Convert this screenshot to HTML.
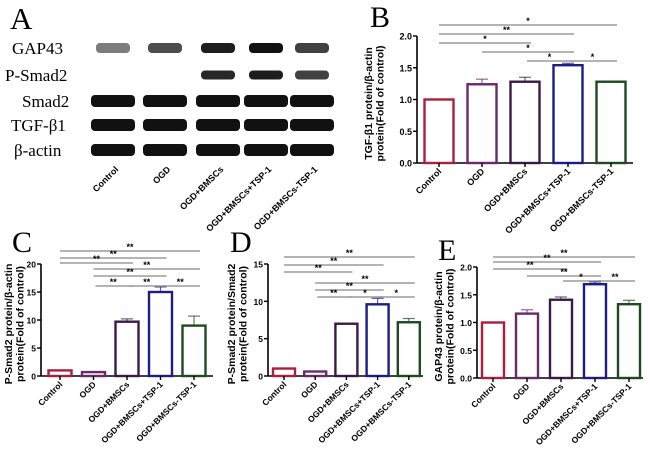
<!DOCTYPE html>
<html><head><meta charset="utf-8"><style>
body{margin:0;background:#fff}
svg{display:block;font-family:"Liberation Sans",Arial,sans-serif}
.serif{font-family:"Liberation Serif","DejaVu Serif",serif}
</style></head><body>
<svg id="fig" width="650" height="454" viewBox="0 0 650 454">
<g id="blot">
<text class="serif" x="10" y="29" font-size="31">A</text>
</g>
</svg>
<script>
const groups = ["Control","OGD","OGD+BMSCs","OGD+BMSCs+TSP-1","OGD+BMSCs-TSP-1"];
const colors = ["#a8203c","#6a2a6a","#3a1a48","#1c1c86","#1e4a1e"];
const valuesB = [1.0,1.24,1.28,1.54,1.28];
const errB = [0,0.08,0.07,0.03,0];
const ticksB = ["0.0","0.5","1.0","1.5","2.0"];
const sigB = [[0,4,"*"],[0,3,"**"],[0,2,"*"],[1,3,"*"],[2,3,"*"],[3,4,"*"]];
const valuesC = [1.0,0.7,9.7,15,9];
const errC = [0,0,0.5,0.9,1.7];
const ticksC = ["0","5","10","15","20"];
const sigC = [[0,4,"**"],[0,3,"**"],[0,2,"**"],[1,4,"**"],[1,3,"**"],[1,2,"**"],[2,3,"**"],[3,4,"**"]];
const valuesD = [1.0,0.6,7.0,9.6,7.2];
const errD = [0,0,0,0.8,0.5];
const ticksD = ["0","5","10","15"];
const sigD = [[0,4,"**"],[0,3,"**"],[0,2,"**"],[1,4,"**"],[1,3,"**"],[1,2,"**"],[2,3,"*"],[3,4,"*"]];
const valuesE = [1.0,1.16,1.41,1.69,1.33];
const errE = [0,0.07,0.05,0.04,0.07];
const ticksE = ["0.0","0.5","1.0","1.5","2.0"];
const sigE = [[0,4,"**"],[0,3,"**"],[0,2,"**"],[1,3,"**"],[2,3,"*"],[3,4,"**"]];
const blotRows = ["GAP43","P-Smad2","Smad2","TGF-β1","β-actin"];
const blotIntensity = [[0.55,0.75,0.95,1,0.8],[0,0,0.9,0.95,0.8],[1,1,1,1,1],[1,1,1,1,1],[1,1,1,1,1]];

const NS="http://www.w3.org/2000/svg";
const svg=document.getElementById('fig');
function mk(tag,attrs,parent,text){const e=document.createElementNS(NS,tag);for(const k in attrs)e.setAttribute(k,attrs[k]);if(text!==undefined)e.textContent=text;(parent||svg).appendChild(e);return e;}

function panel(cfg){
  const g=mk('g',{});
  
  
  const L=mk('text',{x:cfg.lx,y:cfg.ly,'font-size':30,class:'serif'},g,cfg.letter);
  
  
  const ymax=cfg.ymax;
  const y=v=>cfg.y0-(v/ymax)*(cfg.y0-cfg.yTop);
  const x=i=>cfg.xc0+i*cfg.step;
  const ya=mk('line',{x1:cfg.ax,x2:cfg.ax,y1:cfg.yTop,y2:cfg.y0,stroke:'#000','stroke-width':1.6},g);
  
  
  const xa=mk('line',{x1:cfg.ax,x2:cfg.axEnd,y1:cfg.y0,y2:cfg.y0,stroke:'#000','stroke-width':1.6},g);
  
  
  cfg.ticks.forEach((t,i)=>{
    const v=i*ymax/(cfg.ticks.length-1);
    mk('line',{x1:cfg.ax-4,x2:cfg.ax,y1:y(v),y2:y(v),stroke:'#000','stroke-width':1.4},g);
    const tt=mk('text',{x:cfg.ax-5,y:y(v)+3.5,'font-size':cfg.fs,'font-weight':'bold','text-anchor':'end'},g,t);
    
    
  });
  const cy=(cfg.y0+cfg.yTop)/2+4;
  cfg.title.forEach((ln,k)=>{
    const tx=cfg.tx+k*11.5;
    const t=mk('text',{x:tx,y:cy,'font-size':10.5,'font-weight':'bold','text-anchor':'middle',transform:`rotate(-90 ${tx} ${cy})`},g,ln);
    
    
  });
  cfg.values.forEach((v,i)=>{
    const b=mk('rect',{x:x(i)-cfg.bw/2,y:y(v),width:cfg.bw,height:cfg.y0-y(v),fill:'#fff',stroke:colors[i],'stroke-width':2.4},g);
    
    
    if(cfg.err[i]>0){
      const e=y(v+cfg.err[i]);
      mk('line',{x1:x(i),x2:x(i),y1:y(v),y2:e,stroke:colors[i],'stroke-width':1.2,opacity:0.7},g);
      mk('line',{x1:x(i)-6,x2:x(i)+6,y1:e,y2:e,stroke:colors[i],'stroke-width':1.2,opacity:0.7},g);
    }
    mk('line',{x1:x(i),x2:x(i),y1:cfg.y0,y2:cfg.y0+4,stroke:'#000','stroke-width':1.4},g);
    const lx=x(i)+3, ly=cfg.y0+9;
    const xl=mk('text',{x:lx,y:ly,'font-size':cfg.fs,'font-weight':'bold','text-anchor':'end',transform:`rotate(-45 ${lx} ${ly})`},g,groups[i]);
    
    
  });
  cfg.sig.forEach((s,k)=>{
    const yy=cfg.sigY[k];
    const x2=x(s[1])+6;
    const l=mk('line',{x1:x(s[0])+ (s[0]>0&&cfg.sigY.filter(z=>z===yy).length>1?2:0),x2:x2,y1:yy,y2:yy,stroke:'#888','stroke-width':1.3},g);
    
    
    const st=mk('text',{x:(x(s[0])+x2)/2,y:yy-1,'font-size':9,'font-weight':'bold','text-anchor':'middle'},g,s[2]);
    
    
  });
}

panel({name:'panel-b-tgf-beta1-chart',letter:'B',lx:370,ly:27,ax:417,axEnd:633,y0:163,yTop:36,ymax:2,xc0:439,step:43,bw:29,fs:9,
  values:valuesB,err:errB,ticks:ticksB,tx:372,title:['TGF-β1 protein/β-actin','protein(Fold of control)'],
  sig:sigB,sigY:[25,34,43,52,61,61]});
panel({name:'panel-c-psmad2-actin-chart',letter:'C',lx:12,ly:252,ax:41,axEnd:213,y0:376,yTop:264,ymax:20,xc0:60,step:33.5,bw:23,fs:8.5,
  values:valuesC,err:errC,ticks:ticksC,tx:12,title:['P-Smad2 protein/β-actin','protein(Fold of control)'],
  sig:sigC,sigY:[251,258,263,269,276,286,286,286]});
panel({name:'panel-d-psmad2-smad2-chart',letter:'D',lx:230,ly:252,ax:268,axEnd:423,y0:376,yTop:264,ymax:15,xc0:284,step:31.2,bw:22,fs:8.5,
  values:valuesD,err:errD,ticks:ticksD,tx:235,title:['P-Smad2 protein/Smad2','protein(Fold of control)'],
  sig:sigD,sigY:[257,265,272,283,290,297,297,297]});
panel({name:'panel-e-gap43-chart',letter:'E',lx:438,ly:260,ax:477,axEnd:643,y0:378,yTop:267,ymax:2,xc0:493,step:34,bw:22,fs:8.5,
  values:valuesE,err:errE,ticks:ticksE,tx:442,title:['GAP43 protein/β-actin','protein(Fold of control)'],
  sig:sigE,sigY:[257,262,269,276,281,281]});

const blot=document.getElementById('blot');
const rowY=[48,75,101,125,150];
const laneX=[113,165,218,266,312];
blotRows.forEach((r,i)=>{
  const t=mk('text',{x:i===0?12:(i===1?5:(i===2?22:(i===3?11:14))),y:rowY[i]+6,'font-size':17,class:'serif'},blot,r);
  
  
  laneX.forEach((lx,j)=>{
    const a=blotIntensity[i][j]; if(a<=0) return;
    const h=i===0?10:(i===1?9:12);
    const w=i>=2?44:34;
    const b=mk('rect',{x:lx-w/2,y:rowY[i]-h/2,width:w,height:h,rx:4,fill:'#111','fill-opacity':a},blot);
    
    
  });
});
laneX.forEach((lx,j)=>{
  const ly=170;
  const t=mk('text',{x:lx+6,y:ly,'font-size':9,'font-weight':'bold','text-anchor':'end',transform:`rotate(-45 ${lx+6} ${ly})`},blot,groups[j]);
  
  
});
</script>
</body></html>
